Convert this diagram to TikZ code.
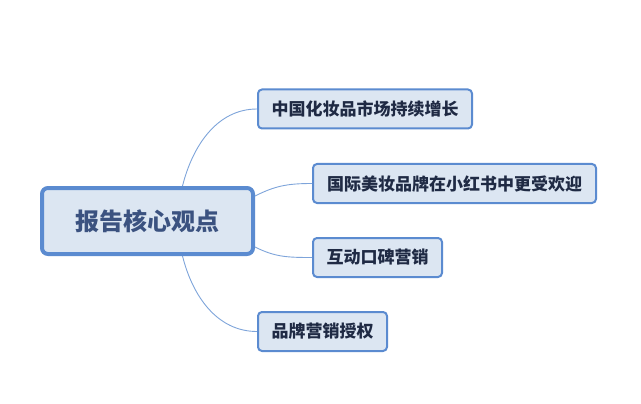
\documentclass[tikz,border=0pt]{standalone}
\usepackage{fontspec}
\setmainfont{Noto Sans CJK SC}
\usetikzlibrary{calc}
\definecolor{boxfill}{HTML}{DCE6F2}
\definecolor{boxline}{HTML}{5B8BD0}
\definecolor{linkc}{HTML}{7EA4DA}
\definecolor{roottext}{HTML}{3B5280}
\definecolor{childtext}{HTML}{1F2A44}
\tikzset{
  rootbox/.style={draw=boxline, fill=boxfill, line width=4pt, rounded corners=6pt,
    minimum width=211pt, minimum height=66pt, inner sep=0pt,
    text=roottext, font=\fontsize{24pt}{28pt}\selectfont\bfseries},
  childbox/.style={draw=boxline, fill=boxfill, line width=2pt, rounded corners=4pt,
    minimum height=39pt, inner sep=0pt,
    text=childtext, font=\fontsize{17pt}{20pt}\selectfont\bfseries},
  link/.style={draw=linkc, line width=0.9pt}
}
\begin{document}
\begin{tikzpicture}[x=1pt,y=-1pt]
\useasboundingbox (0,0) rectangle (641,404);
\node[rootbox] (root) at (147.5,221) {报告核心观点};
\node[childbox, minimum width=214pt] (c1) at (365,109) {中国化妆品市场持续增长};
\node[childbox, minimum width=283pt] (c2) at (454.5,183.5) {国际美妆品牌在小红书中更受欢迎};
\node[childbox, minimum width=129pt] (c3) at (377.5,257.5) {互动口碑营销};
\node[childbox, minimum width=129pt] (c4) at (322.5,331.5) {品牌营销授权};
\draw[link] ($(root.north)+(35,0)$) .. controls ($(root.north)+(45,-40)$) and ($(c1.west)+(-40,0)$) .. (c1.west);
\draw[link] ($(root.east)+(0,-25)$) .. controls ($(root.east)+(20,-35)$) and ($(c2.west)+(-25,0)$) .. (c2.west);
\draw[link] ($(root.east)+(0,26)$) .. controls ($(root.east)+(20,36)$) and ($(c3.west)+(-25,0)$) .. (c3.west);
\draw[link] ($(root.south)+(35,0)$) .. controls ($(root.south)+(45,40)$) and ($(c4.west)+(-40,0)$) .. (c4.west);
\end{tikzpicture}
\end{document}
